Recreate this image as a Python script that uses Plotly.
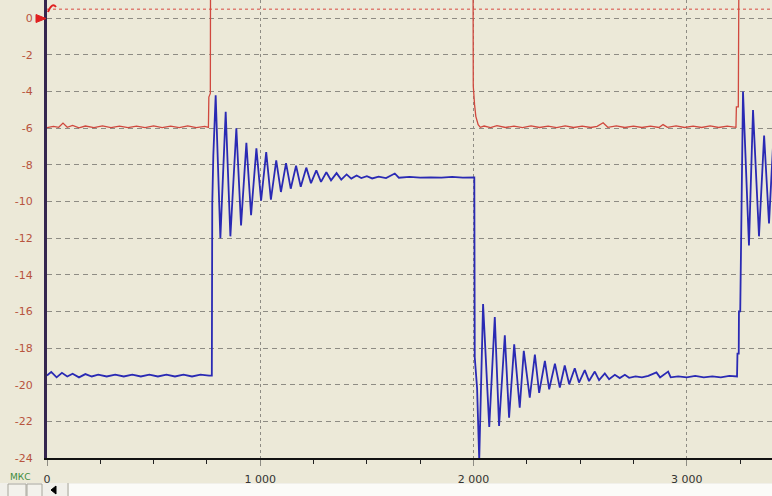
import plotly.graph_objects as go

# ---------------- data (time in мкс) ----------------
# Blue trace
blue_low1_t = [0, 20, 45, 70, 95, 120, 150, 180, 210, 240, 280, 320, 360, 400, 440, 480,
               520, 560, 600, 640, 680, 720, 760, 773]
blue_low1_v = [-19.5, -19.3, -19.6, -19.35, -19.55, -19.4, -19.6, -19.42, -19.55, -19.45,
               -19.55, -19.45, -19.55, -19.45, -19.55, -19.45, -19.55, -19.45, -19.55,
               -19.45, -19.55, -19.45, -19.5, -19.5]

blue_ring1_t = [775, 780, 791, 813, 838, 860, 888, 910, 935, 957, 982, 1004, 1028, 1050,
                1075, 1097, 1121, 1143, 1168, 1190, 1216, 1238, 1263, 1285, 1310, 1332,
                1358, 1380, 1405, 1427, 1452, 1474]
blue_ring1_v = [-10.1, -7.5, -4.2, -12.0, -5.1, -11.9, -6.0, -11.3, -6.8, -10.75, -7.1,
                -9.95, -7.3, -9.9, -7.75, -9.48, -7.9, -9.3, -8.05, -9.2, -8.15, -9.0,
                -8.3, -8.93, -8.4, -8.84, -8.45, -8.8, -8.52, -8.75, -8.58, -8.72]

blue_high_t = [1500, 1525, 1555, 1590, 1631, 1650, 1700, 1750, 1800, 1850, 1900, 1950, 2004]
blue_high_v = [-8.62, -8.74, -8.64, -8.72, -8.47, -8.7, -8.66, -8.7, -8.68, -8.7, -8.66,
               -8.7, -8.68]

blue_ring2_t = [2006, 2017, 2027, 2045, 2074, 2100, 2120, 2147, 2167, 2191, 2217, 2236,
                2264, 2288, 2308, 2335, 2355, 2382, 2405, 2428, 2449, 2475, 2495, 2522,
                2542, 2569, 2589, 2616, 2636, 2663, 2686]
blue_ring2_v = [-18.5, -20.2, -24.1, -15.6, -22.3, -16.3, -22.25, -17.3, -21.8, -17.8,
                -21.25, -18.15, -20.7, -18.35, -20.45, -18.7, -20.25, -18.85, -20.15,
                -18.95, -19.97, -19.1, -19.88, -19.2, -19.8, -19.28, -19.75, -19.38,
                -19.7, -19.46, -19.64]

blue_low2_t = [2710, 2730, 2760, 2790, 2820, 2858, 2875, 2913, 2925, 2960, 3000, 3040,
               3080, 3120, 3160, 3200, 3236]
blue_low2_v = [-19.46, -19.62, -19.55, -19.6, -19.52, -19.33, -19.6, -19.28, -19.6,
               -19.55, -19.6, -19.52, -19.6, -19.55, -19.6, -19.52, -19.55]

blue_ring3_t = [3238, 3244, 3245, 3251, 3264, 3292, 3311, 3339, 3363, 3386, 3397, 3405]
blue_ring3_v = [-18.3, -18.3, -16.0, -16.0, -4.0, -12.4, -5.0, -11.9, -6.4, -11.2, -8.7, -6.9]

# Red trace (high level runs off the top of the screen)
red_low1_t = [0, 30, 55, 75, 95, 120, 150, 180, 220, 260, 300, 340, 380, 420, 460, 500,
              540, 580, 620, 660, 700, 740, 757]
red_low1_v = [-5.97, -5.9, -5.95, -5.72, -5.95, -5.85, -5.98, -5.88, -5.97, -5.87, -5.97,
              -5.88, -5.97, -5.88, -5.97, -5.87, -5.97, -5.88, -5.97, -5.87, -5.97, -5.9,
              -5.95]
red_rise1_t = [759, 766, 767, 1998]
red_rise1_v = [-4.3, -4.1, 3.0, 3.0]
red_fall_t = [1999, 2005, 2011, 2022, 2032]
red_fall_v = [-3.7, -4.7, -5.35, -5.8, -5.95]
red_low2_t = [2050, 2080, 2110, 2150, 2190, 2230, 2270, 2310, 2350, 2390, 2430, 2470,
              2510, 2550, 2580, 2608, 2630, 2670, 2710, 2750, 2790, 2830, 2870, 2889,
              2910, 2950, 2990, 3030, 3070, 3110, 3150, 3190, 3231]
red_low2_v = [-5.88, -5.97, -5.86, -5.96, -5.88, -5.97, -5.87, -5.96, -5.88, -5.97, -5.87,
              -5.96, -5.88, -5.96, -5.9, -5.7, -5.95, -5.87, -5.96, -5.88, -5.96, -5.88,
              -5.96, -5.8, -5.95, -5.87, -5.96, -5.88, -5.96, -5.87, -5.96, -5.88, -5.95]
red_rise2_t = [3233, 3242, 3243, 3245, 3400]
red_rise2_v = [-4.83, -4.83, -0.3, 3.0, 3.0]

red_marker_level = 0.5          # dotted red level line at the top

x_tick_vals = [0, 1000, 2000, 3000]
x_tick_text = ["0", "1 000", "2 000", "3 000"]
y_tick_vals = list(range(-24, 1, 2))
y_tick_text = [str(v) for v in y_tick_vals]
x_unit = "МКС"

# ---------------- figure ----------------
blue_t = blue_low1_t + blue_ring1_t + blue_high_t + blue_ring2_t + blue_low2_t + blue_ring3_t
blue_v = blue_low1_v + blue_ring1_v + blue_high_v + blue_ring2_v + blue_low2_v + blue_ring3_v
red_t = red_low1_t + red_rise1_t + red_fall_t + red_low2_t + red_rise2_t
red_v = red_low1_v + red_rise1_v + red_fall_v + red_low2_v + red_rise2_v

W, H = 772, 496
ML, MB = 47, 38
PW, PH = W - ML, H - MB


def px(x):
    return (x - ML) / PW


def py(y):
    return (PH - y) / PH


BG = "#ECE9D8"
GRID = "#8E8C84"

fig = go.Figure()
fig.add_trace(go.Scatter(x=red_t, y=red_v, mode="lines",
                         line=dict(color="#D0483E", width=1.3), hoverinfo="skip"))
fig.add_trace(go.Scatter(x=blue_t, y=blue_v, mode="lines",
                         line=dict(color="#2A2AB4", width=1.8), hoverinfo="skip"))

fig.update_layout(
    width=W, height=H,
    margin=dict(l=ML, r=0, t=0, b=MB, autoexpand=False),
    paper_bgcolor=BG, plot_bgcolor=BG,
    showlegend=False,
    font=dict(family="DejaVu Sans", size=11, color="#333333"),
)

fig.update_xaxes(
    range=[0, 3400],
    tickmode="array", tickvals=x_tick_vals, ticktext=x_tick_text,
    showgrid=True, gridcolor=GRID, gridwidth=1, griddash="3px,3px",
    showline=True, linecolor="#111111", linewidth=2,
    ticks="outside", ticklen=6, tickcolor=GRID, tickwidth=1,
    minor=dict(tickmode="linear", tick0=0, dtick=250, ticks="outside",
               ticklen=4, tickcolor="#222222", showgrid=False),
    zeroline=False,
    tickfont=dict(size=11, color="#333333"),
    ticklabelstandoff=4,
)
fig.update_yaxes(
    range=[-24, 1.0],
    tickmode="array", tickvals=y_tick_vals, ticktext=y_tick_text,
    showgrid=True, gridcolor=GRID, gridwidth=1, griddash="5px,4px",
    showline=True, linecolor="#35264F", linewidth=3,
    ticks="", zeroline=False,
    tickfont=dict(size=11, color="#B8543E"),
    ticklabelstandoff=9,
)

shapes = []
# dotted red level line at the top
shapes.append(dict(type="line", xref="paper", yref="y", x0=0, x1=1,
                   y0=red_marker_level, y1=red_marker_level,
                   line=dict(color="#D84A40", width=1, dash="3px,3px")))
# red arrow marker at the zero level
shapes.append(dict(type="path", xref="paper", yref="paper",
                   path=f"M {px(36)} {py(14.5)} L {px(46)} {py(18.5)} L {px(36)} {py(22.5)} Z",
                   fillcolor="#E02020", line=dict(color="#E02020", width=1)))
shapes.append(dict(type="path", xref="paper", yref="paper",
                   path=f"M {px(48)} {py(12)} Q {px(52)} {py(2)} {px(56)} {py(7)}",
                   line=dict(color="#E02020", width=2)))
# scroll bar strip at the bottom
shapes.append(dict(type="rect", xref="paper", yref="paper",
                   x0=px(0), x1=px(W), y0=py(483), y1=py(H),
                   fillcolor="#F1F0EA", line=dict(width=0)))
shapes.append(dict(type="rect", xref="paper", yref="paper",
                   x0=px(69), x1=px(W), y0=py(484), y1=py(H),
                   fillcolor="#FBFBF8", line=dict(width=0)))
for a, b in [(8, 26), (27, 42)]:
    shapes.append(dict(type="rect", xref="paper", yref="paper",
                       x0=px(a), x1=px(b), y0=py(484), y1=py(H + 2),
                       fillcolor="#F3F2EC", line=dict(color="#A8A69C", width=1)))
shapes.append(dict(type="path", xref="paper", yref="paper",
                   path=f"M {px(56)} {py(486)} L {px(51)} {py(490)} L {px(56)} {py(494)} Z",
                   fillcolor="#000000", line=dict(color="#000000", width=1)))
shapes.append(dict(type="line", xref="paper", yref="paper",
                   x0=px(68), x1=px(68), y0=py(483), y1=py(H),
                   line=dict(color="#A8A69C", width=1)))
fig.update_layout(shapes=shapes)

fig.add_annotation(x=px(20), y=py(477), xref="paper", yref="paper", text=x_unit,
                   showarrow=False, xanchor="center", yanchor="middle",
                   font=dict(size=9, color="#3C8C3C", family="DejaVu Sans"))

# remove the browser's default page margin so the figure fills the window exactly
fig.write_html("out.html",
               config={"displayModeBar": False, "staticPlot": True},
               post_script="document.body.style.margin='0';"
                           "document.body.style.overflow='hidden';")
